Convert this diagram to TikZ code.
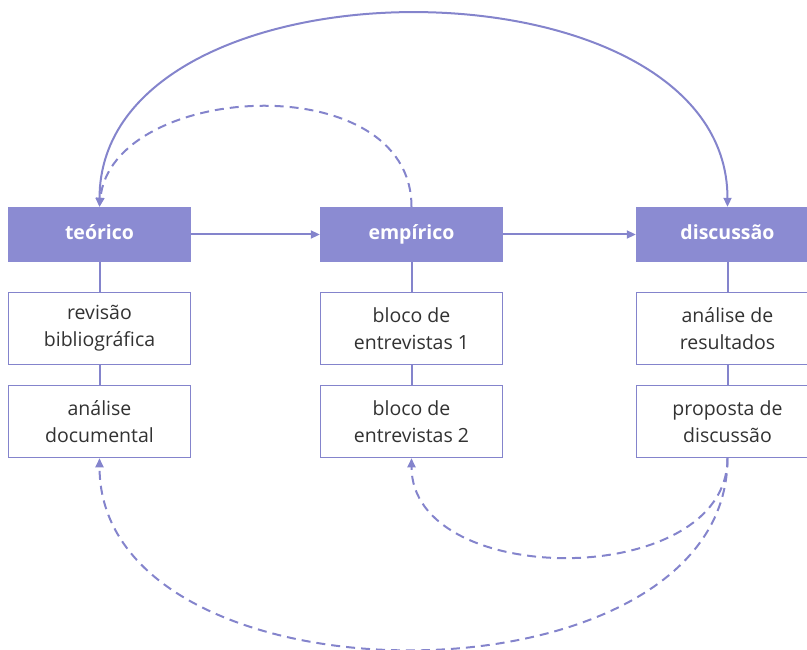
\documentclass[tikz,border=0pt]{standalone}
\usepackage{fontspec}
\setmainfont{Open Sans}
\usetikzlibrary{arrows.meta}
\definecolor{lav}{RGB}{139,139,210}
\definecolor{lavline}{RGB}{132,132,204}
\definecolor{txt}{RGB}{50,50,50}
\tikzset{
  head/.style={rectangle, fill=lav, draw=none, minimum width=183pt, minimum height=55pt, inner sep=0pt,
    text height=14pt, text depth=4pt,
    text=white, font=\fontsize{19.5}{24}\selectfont\bfseries},
  sub/.style={rectangle, fill=white, draw=lavline, line width=1.5pt, minimum width=182pt, minimum height=72pt,
    inner sep=0pt, text=txt, align=center, font=\fontsize{19.5}{27}\selectfont},
  link/.style={draw=lavline, line width=2pt},
  arr/.style={link, -{Triangle[length=9pt,width=8pt]}},
  darr/.style={arr, dash pattern=on 9pt off 6pt},
}
\begin{document}
\begin{tikzpicture}[x=1pt,y=-1pt]
\useasboundingbox (0,0) rectangle (807,650);
% headers
\node[head] (teo) at (99.5,234.5) {teórico};
\node[head] (emp) at (411.5,234.5) {empírico};
\node[head] (dis) at (727.5,234.5) {discussão};
% sub boxes
\node[sub] (t1) at (99.5,328.5) {revisão\\bibliográfica};
\node[sub] (t2) at (99.5,421.5) {análise\\documental};
\node[sub] (e1) at (411.5,328.5) {bloco de\\entrevistas 1};
\node[sub] (e2) at (411.5,421.5) {bloco de\\entrevistas 2};
\node[sub] (d1) at (727.5,328.5) {análise de\\resultados};
\node[sub] (d2) at (727.5,421.5) {proposta de\\discussão};
% vertical links
\draw[link] (teo.south) -- (t1.north);
\draw[link] (t1.south) -- (t2.north);
\draw[link] (emp.south) -- (e1.north);
\draw[link] (e1.south) -- (e2.north);
\draw[link] (dis.south) -- (d1.north);
\draw[link] (d1.south) -- (d2.north);
% horizontal arrows
\draw[arr] (teo.east) -- (emp.west);
\draw[arr] (emp.east) -- (dis.west);
% top arcs
\draw[link, {Triangle[length=9pt,width=8pt]}-{Triangle[length=9pt,width=8pt]}]
  (teo.north) .. controls (100,-50) and (727.5,-50) .. (dis.north);
\draw[darr] (emp.north) .. controls (411.5,65) and (112,82) .. (teo.north);
% bottom arcs
\draw[darr] (d2.south) .. controls (727.5,590) and (411.5,590) .. (e2.south);
\draw[darr] (d2.south) .. controls (727.5,713) and (99.5,713) .. (t2.south);
\end{tikzpicture}
\end{document}
